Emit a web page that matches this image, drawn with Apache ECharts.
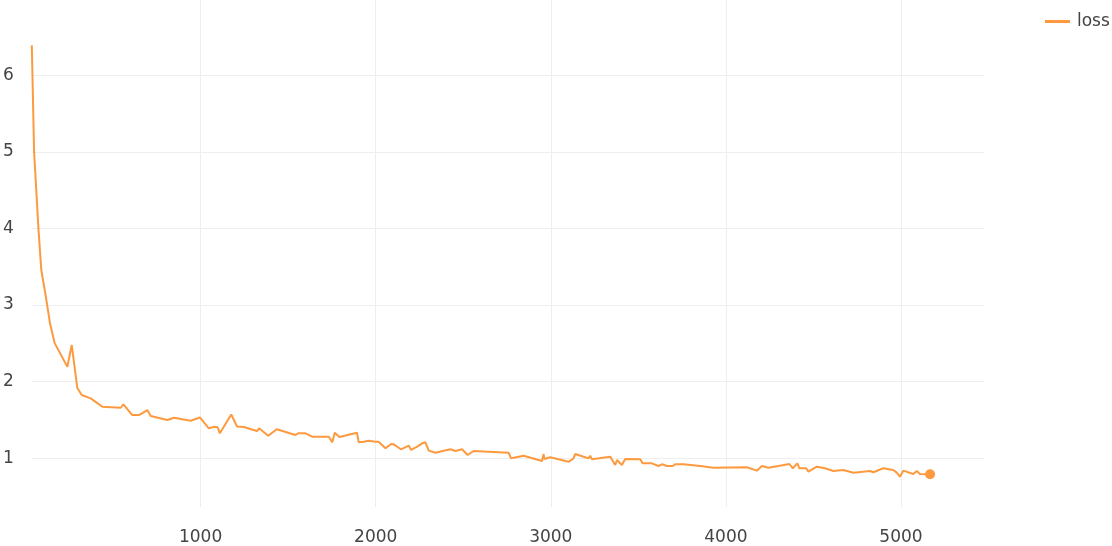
<!DOCTYPE html>
<html>

<head>
    <meta charset="utf-8">
    <title>loss</title>
    <script src="https://cdn.jsdelivr.net/npm/echarts@6/dist/echarts.min.js"></script>
    <style>
        html, body { margin: 0; padding: 0; background: #fff; }
        #chart { width: 1112px; height: 546px; }
    </style>
</head>

<body>
    <div id="chart"></div>
    <script>
        // 训练步数
        const steps = [36, 49, 74, 90, 116, 140, 167, 239, 264, 296, 321, 372, 439, 544, 559, 610, 648, 696, 715, 810,
            848, 943, 996, 1047, 1080, 1097, 1110, 1175, 1208, 1247, 1322, 1334, 1386, 1435, 1542, 1552, 1557, 1599,
            1637, 1732, 1752, 1766, 1793, 1893, 1903, 1932, 1960, 1999, 2016, 2056, 2088, 2103, 2144, 2189, 2202,
            2237, 2265, 2284, 2303, 2341, 2388, 2427, 2455, 2493, 2525, 2559, 2759, 2773, 2845, 2950, 2959, 2963,
            2997, 3102, 3127, 3140, 3187, 3216, 3225, 3235, 3340, 3350, 3368, 3378, 3387, 3406, 3425, 3511, 3524,
            3577, 3615, 3635, 3663, 3697, 3710, 3758, 3853, 3929, 4120, 4177, 4205, 4243, 4300, 4363, 4382, 4408,
            4420, 4458, 4471, 4519, 4566, 4614, 4671, 4728, 4823, 4842, 4899, 4956, 4976, 4994, 5013, 5070, 5090,
            5108, 5166];
        // loss 值
        const loss = [6.39, 5.0, 3.99, 3.46, 3.11, 2.76, 2.50, 2.195, 2.478, 1.917, 1.826, 1.783, 1.673, 1.660, 1.705,
            1.565, 1.565, 1.630, 1.552, 1.500, 1.530, 1.491, 1.533, 1.392, 1.413, 1.405, 1.326, 1.572, 1.415, 1.409,
            1.356, 1.392, 1.295, 1.379, 1.304, 1.291, 1.326, 1.326, 1.282, 1.282, 1.209, 1.334, 1.278, 1.334, 1.209,
            1.217, 1.230, 1.217, 1.217, 1.131, 1.187, 1.183, 1.118, 1.165, 1.109, 1.152, 1.196, 1.209, 1.100, 1.073,
            1.100, 1.118, 1.096, 1.118, 1.043, 1.096, 1.073, 1.000, 1.034, 0.965, 1.056, 0.991, 1.013, 0.956, 0.991,
            1.056, 1.021, 1.000, 1.034, 0.987, 1.021, 1.000, 0.913, 0.978, 0.956, 0.913, 0.991, 0.987, 0.935, 0.935,
            0.900, 0.922, 0.900, 0.900, 0.922, 0.922, 0.900, 0.878, 0.883, 0.839, 0.900, 0.878, 0.900, 0.926, 0.870,
            0.935, 0.870, 0.870, 0.826, 0.891, 0.870, 0.835, 0.848, 0.813, 0.835, 0.818, 0.870, 0.848, 0.813, 0.760,
            0.839, 0.796, 0.835, 0.796, 0.792];
        // 刻度
        const xTicks = [1000, 2000, 3000, 4000, 5000];
        const yTicks = [1, 2, 3, 4, 5, 6];

        const lineColor = '#fd9a3f';
        const textFont = 'DejaVu Sans';

        const points = steps.map((s, i) => [s, loss[i]]);
        const lastPoint = points[points.length - 1];

        const chart = echarts.init(document.getElementById('chart'));
        chart.setOption({
            animation: false,
            textStyle: { fontFamily: textFont },
            grid: { left: 31, right: 128, top: 0, bottom: 39 },
            legend: {
                left: 1045,
                top: 13,
                padding: 0,
                itemWidth: 25,
                itemHeight: 3,
                data: [{ name: 'loss', icon: 'rect' }],
                textStyle: { fontFamily: textFont, fontSize: 17, color: '#444', padding: [0, 0, 0, 2] }
            },
            xAxis: {
                type: 'value',
                min: 36,
                max: 5474,
                axisLine: { show: false },
                axisTick: { show: false, customValues: xTicks },
                axisLabel: {
                    customValues: xTicks, fontSize: 17, color: '#444', margin: 22,
                    formatter: v => String(v)
                },
                splitLine: { show: true, lineStyle: { color: '#eeeeee', width: 1 } }
            },
            yAxis: {
                type: 'value',
                min: 0.365,
                max: 6.98,
                axisLine: { show: false },
                axisTick: { show: false, customValues: yTicks },
                axisLabel: { customValues: yTicks, fontSize: 17, color: '#444', margin: 18 },
                splitLine: { show: true, lineStyle: { color: '#eeeeee', width: 1 } }
            },
            series: [{
                name: 'loss',
                type: 'line',
                data: points,
                symbol: 'none',
                lineStyle: { color: lineColor, width: 2 },
                itemStyle: { color: lineColor }
            }, {
                type: 'scatter',
                data: [lastPoint],
                symbol: 'circle',
                symbolSize: 10,
                itemStyle: { color: lineColor, opacity: 1 }
            }]
        });
    </script>
</body>

</html>
